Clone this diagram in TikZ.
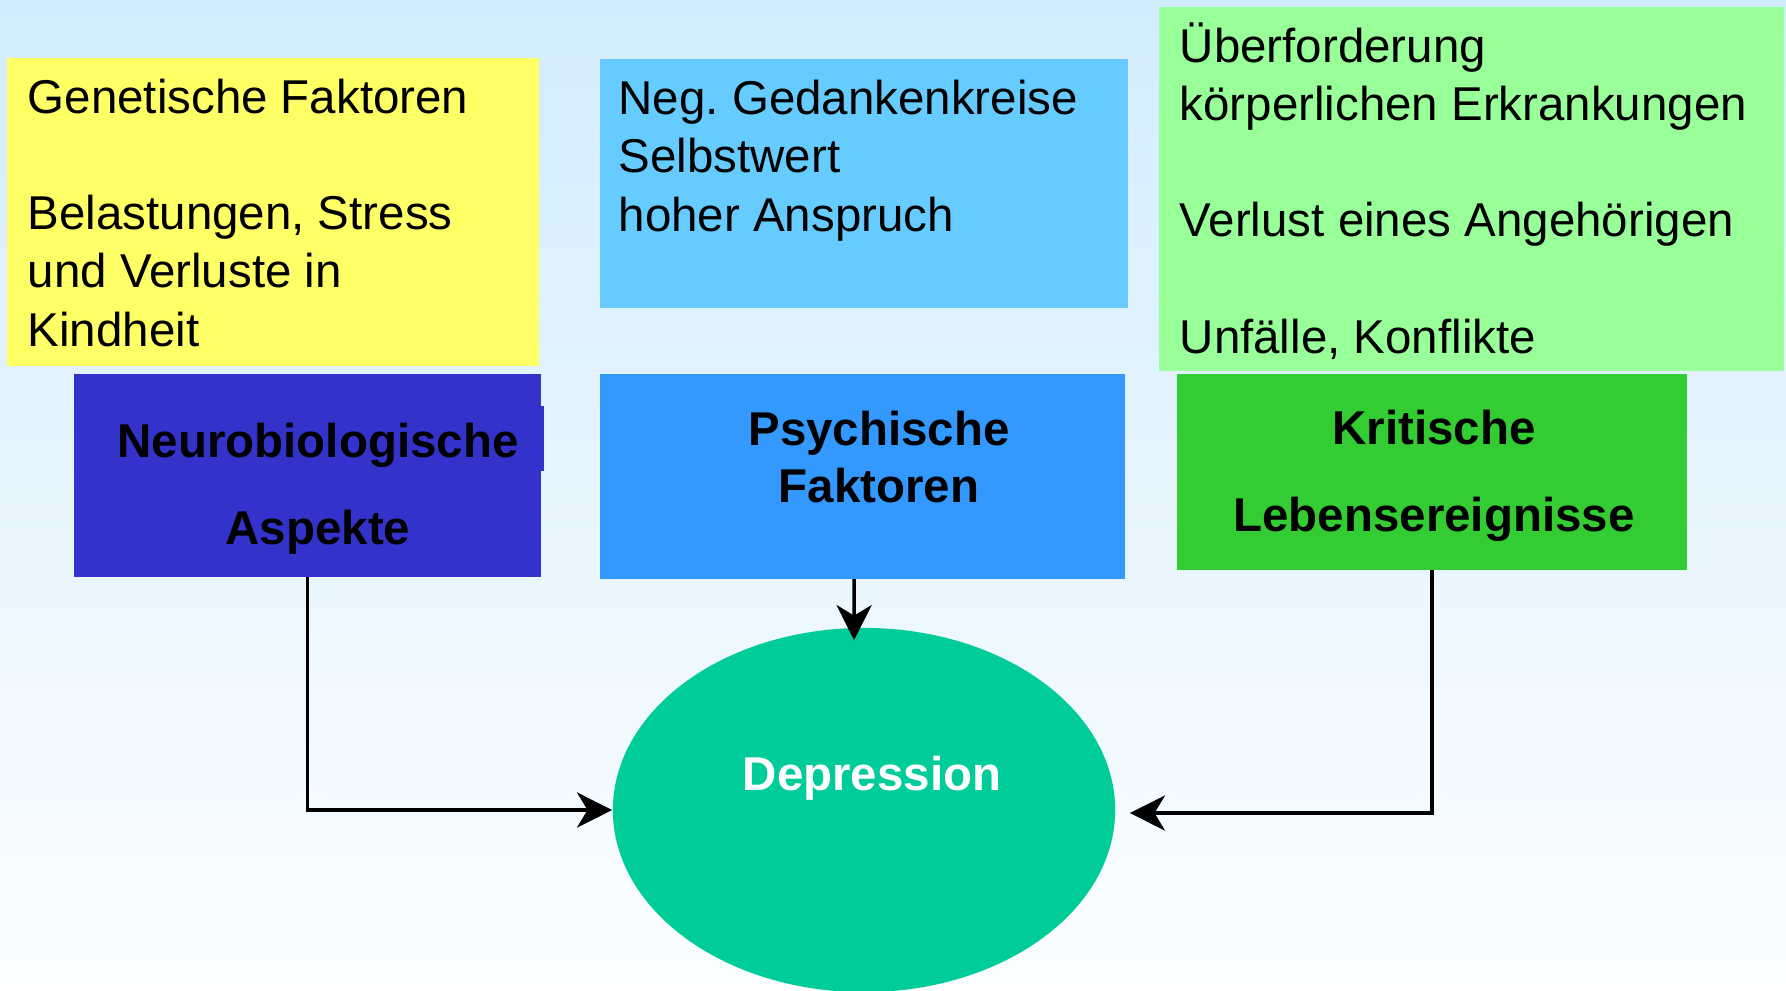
\documentclass[tikz,border=0pt]{standalone}
\usepackage{fontspec}
\setmainfont{Liberation Sans}
\frenchspacing
\usetikzlibrary{shapes.geometric, arrows.meta, positioning}
\definecolor{gelb}{HTML}{FFFF66}
\definecolor{hellblau}{HTML}{66CCFF}
\definecolor{hellgruen}{HTML}{99FF99}
\definecolor{neurob}{HTML}{3333CC}
\definecolor{psychb}{HTML}{3399FF}
\definecolor{kritg}{HTML}{33CC33}
\definecolor{deprg}{HTML}{00CC99}
\definecolor{bgtop}{HTML}{D2ECFF}
\definecolor{bgbot}{HTML}{FCFEFF}
\tikzstyle{arrow}  = [line width=1pt, -{Stealth[length=10pt, width=10pt, inset=3pt]}]
\tikzstyle{feld}   = [rectangle, inner sep=0pt, outer sep=0pt, anchor=north west]
\tikzstyle{liste}  = [inner sep=0pt, anchor=base west, align=left, font=\fontsize{13.5pt}{16.5pt}\selectfont]
\tikzstyle{titel}  = [inner sep=0pt, align=center, font=\bfseries\fontsize{13.5pt}{24.7pt}\selectfont]

\begin{document}
\begin{tikzpicture}[x=0.01cm, y=-0.01cm]

% Hintergrund
\useasboundingbox (0,0) rectangle (1786,990);
\shade[top color=bgtop, bottom color=bgbot] (0,0) rectangle (1786,990);

% obere Felder
\node[feld, fill=gelb,      minimum width=5.32cm, minimum height=3.08cm] (gen)  at (7,58)    {};
\node[feld, fill=hellblau,  minimum width=5.28cm, minimum height=2.49cm] (ged)  at (600,59)  {};
\node[feld, fill=hellgruen, minimum width=6.25cm, minimum height=3.64cm] (ueb)  at (1159,7)  {};

% (Basis = letzte Zeile)
\node[liste] (gentext) at (27,346)   {Genetische Faktoren\\[16.5pt]
                                      Belastungen, Stress\\ und Verluste in\\ Kindheit};
\node[liste] (gedtext) at (618,231)  {Neg. Gedankenkreise\\ Selbstwert\\ hoher Anspruch};
\node[liste] (uebtext) at (1179,353) {Überforderung\\ körperlichen Erkrankungen\\[16.5pt]
                                      Verlust eines Angehörigen\\[16.5pt] Unfälle, Konflikte};

% Ursachen
\node[feld, fill=neurob, minimum width=4.67cm, minimum height=2.03cm] (neuro) at (74,374)   {};
\fill[neurob] (539,406) rectangle (544,471);
\node[feld, fill=psychb, minimum width=5.25cm, minimum height=2.05cm] (psych) at (600,374)  {};
\node[feld, fill=kritg,  minimum width=5.10cm, minimum height=1.96cm] (krit)  at (1177,374) {};

\node[titel] (neurotext) at (318,489)  {Neurobiologische\\ Aspekte};
\node[titel, font=\bfseries\fontsize{13.5pt}{16.2pt}\selectfont] (psychtext) at (879,457) {Psychische\\ Faktoren};
\node[titel] (krittext)  at (1434,476) {Kritische\\ Lebensereignisse};

% Depression
\node[ellipse, fill=deprg, minimum width=5.02cm, minimum height=3.64cm, inner sep=0pt] (depr) at (864,810) {};
\node[titel, text=white] (deprtext) at (872,778) {Depression};

% Pfeile
\draw[arrow] (neuro.south) |- (depr.west);
\draw[arrow] ([xshift=-0.085cm]psych.south) -- ([xshift=-0.1cm, yshift=-0.13cm]depr.north);
\draw[arrow] (krit.south) |- ([xshift=0.14cm, yshift=-0.03cm]depr.east);

\end{tikzpicture}
\end{document}
